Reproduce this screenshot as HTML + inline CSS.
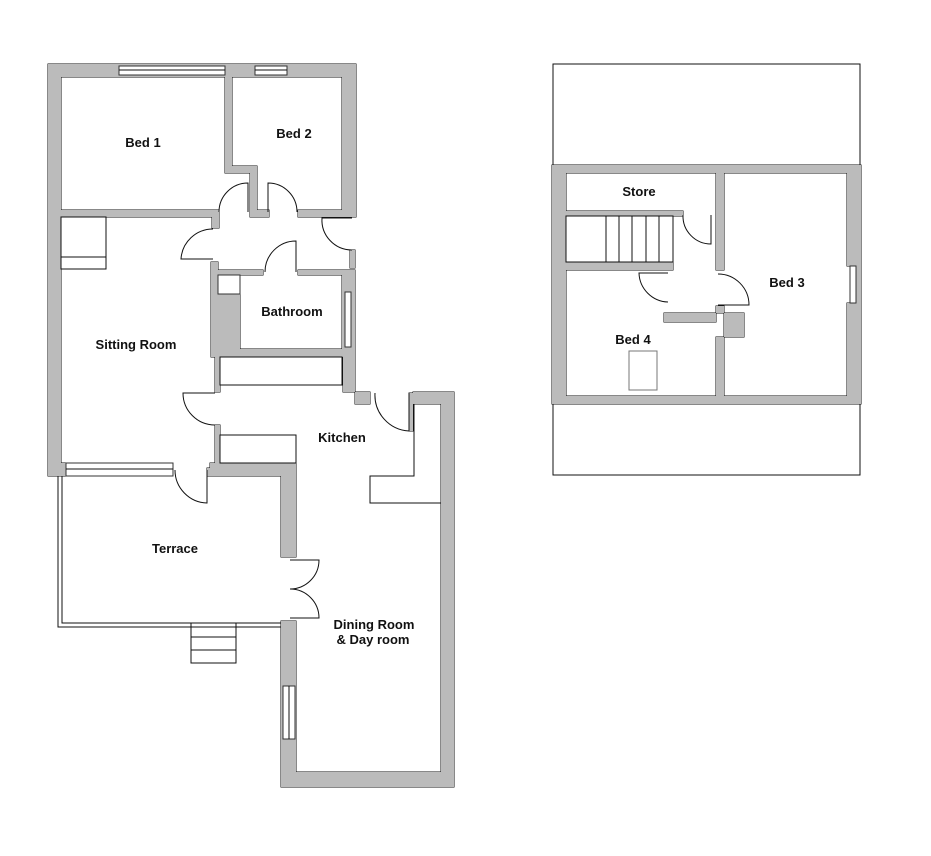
<!DOCTYPE html>
<html><head><meta charset="utf-8"><style>
html,body{margin:0;padding:0;background:#fff;width:931px;height:856px;overflow:hidden}
svg{display:block}
text{font-family:"Liberation Sans",Arial,sans-serif;font-weight:bold;font-size:13px;fill:#111}
.l{fill:none;stroke:#111;stroke-width:1}
.win{fill:#fff;stroke:#333;stroke-width:1}
</style></head><body>
<svg width="931" height="856" viewBox="0 0 931 856" xmlns="http://www.w3.org/2000/svg">
<!-- terrace outline -->
<path class="l" d="M58 476 V627 H281 M62 476 V623 H281"/>
<rect class="l" x="191" y="623" width="45" height="40"/>
<line class="l" x1="191" y1="637" x2="236" y2="637"/><line class="l" x1="191" y1="650" x2="236" y2="650"/>
<rect class="l" x="553" y="64" width="307" height="411"/>

<g style="fill:#bbb;stroke:#111;stroke-width:1">
<g id="walls">
<rect x="48" y="64" width="13" height="412"/>
<rect x="48" y="64" width="308" height="13"/>
<rect x="342" y="64" width="14" height="153"/>
<path d="M225 77 H232 V166 H257 V217 H250 V173 H225 Z"/>
<rect x="250" y="210" width="19" height="7"/>
<rect x="61" y="210" width="158" height="7"/>
<rect x="212" y="217" width="7" height="11"/>
<rect x="298" y="210" width="58" height="7"/>
<path d="M211 262 H218 V270 H263 V275 H240 V349 H342 V275 H298 V270 H355 V404 H370 V392 H343 V357 H220 V392 H215 V357 H211 Z"/>
<rect x="350" y="250" width="5" height="18"/>
<rect x="215" y="425" width="5" height="40"/>
<path d="M210 463 H296 V557 H281 V476 H210 Z"/>
<rect x="207" y="468" width="4" height="8"/>
<rect x="48" y="463" width="18" height="13"/>
<path d="M413 392 H454 V787 H281 V621 H296 V772 H441 V404 H413 Z"/>
<rect x="409" y="393" width="4" height="38"/>
<path fill-rule="evenodd" d="M552 165 H861 V404 H552 Z M566 173 V396 H716 V337 H744 V313 H664 V322 H716 V306 H724 V396 H847 V303 H852 V266 H847 V173 H724 V270 H716 V173 Z"/>
<rect x="566" y="211" width="117" height="5"/>
<rect x="566" y="262" width="107" height="8"/>
</g>
</g>
<use href="#walls" style="fill:#bbb;stroke:none"/>

<!-- windows -->
<rect class="win" x="119" y="66" width="106" height="9"/><line class="l" x1="119" y1="70" x2="225" y2="70"/>
<rect class="win" x="255" y="66" width="32" height="9"/><line class="l" x1="255" y1="70" x2="287" y2="70"/>
<rect class="win" x="345" y="292" width="6" height="55"/>
<rect class="win" x="66" y="463" width="107" height="13"/><line class="l" x1="66" y1="469" x2="173" y2="469"/>
<rect class="win" x="283" y="686" width="12" height="53"/><line class="l" x1="289" y1="686" x2="289" y2="739"/>
<rect class="win" x="850" y="266" width="6" height="37"/>
<rect class="win" x="218" y="275" width="22" height="19"/>

<!-- fittings -->
<rect class="l" x="61" y="217" width="45" height="52"/><line class="l" x1="61" y1="257" x2="106" y2="257"/>
<rect class="l" x="220" y="357" width="122" height="28"/>
<rect class="l" x="220" y="435" width="76" height="28"/>
<path class="l" d="M414 404 V476 H370 V503 H441"/>
<rect class="l" x="566" y="216" width="107" height="46"/>
<path class="l" d="M606 216 V262 M619 216 V262 M632 216 V262 M646 216 V262 M659 216 V262"/>
<rect fill="none" stroke="#777" x="629" y="351" width="28" height="39"/>

<!-- doors -->
<path class="l" d="M248 212 V183 A29 29 0 0 0 219 212"/>
<path class="l" d="M268 212 V183 A29 29 0 0 1 297 212"/>
<path class="l" d="M213 259 H181 A32 32 0 0 1 213 229"/>
<path class="l" d="M296 272 V241 A31 31 0 0 0 265 272"/>
<path class="l" d="M352 218 H322 A30 30 0 0 0 352 250"/>
<path class="l" d="M215 393 H183 A32 32 0 0 0 215 425"/>
<path class="l" d="M409 393 V431 A36 36 0 0 1 375 393"/>
<path class="l" d="M207 470 V503 A33 33 0 0 1 175 470"/>
<path class="l" d="M290 560 H319 A29 29 0 0 1 290 589 A29 29 0 0 1 319 618 H290"/>
<path class="l" d="M711 215 V244 A28 28 0 0 1 683 215"/>
<path class="l" d="M668 273 H639 A30 30 0 0 0 668 302"/>
<path class="l" d="M718 305 H749 A31 31 0 0 0 718 274"/>

<!-- labels -->
<text x="143" y="147" text-anchor="middle">Bed 1</text>
<text x="294" y="138" text-anchor="middle">Bed 2</text>
<text x="292" y="316" text-anchor="middle">Bathroom</text>
<text x="136" y="349" text-anchor="middle">Sitting Room</text>
<text x="342" y="442" text-anchor="middle">Kitchen</text>
<text x="175" y="553" text-anchor="middle">Terrace</text>
<text x="374" y="629" text-anchor="middle">Dining Room</text>
<text x="373" y="644" text-anchor="middle">&amp; Day room</text>
<text x="639" y="196" text-anchor="middle">Store</text>
<text x="787" y="287" text-anchor="middle">Bed 3</text>
<text x="633" y="344" text-anchor="middle">Bed 4</text>
</svg>
</body></html>
